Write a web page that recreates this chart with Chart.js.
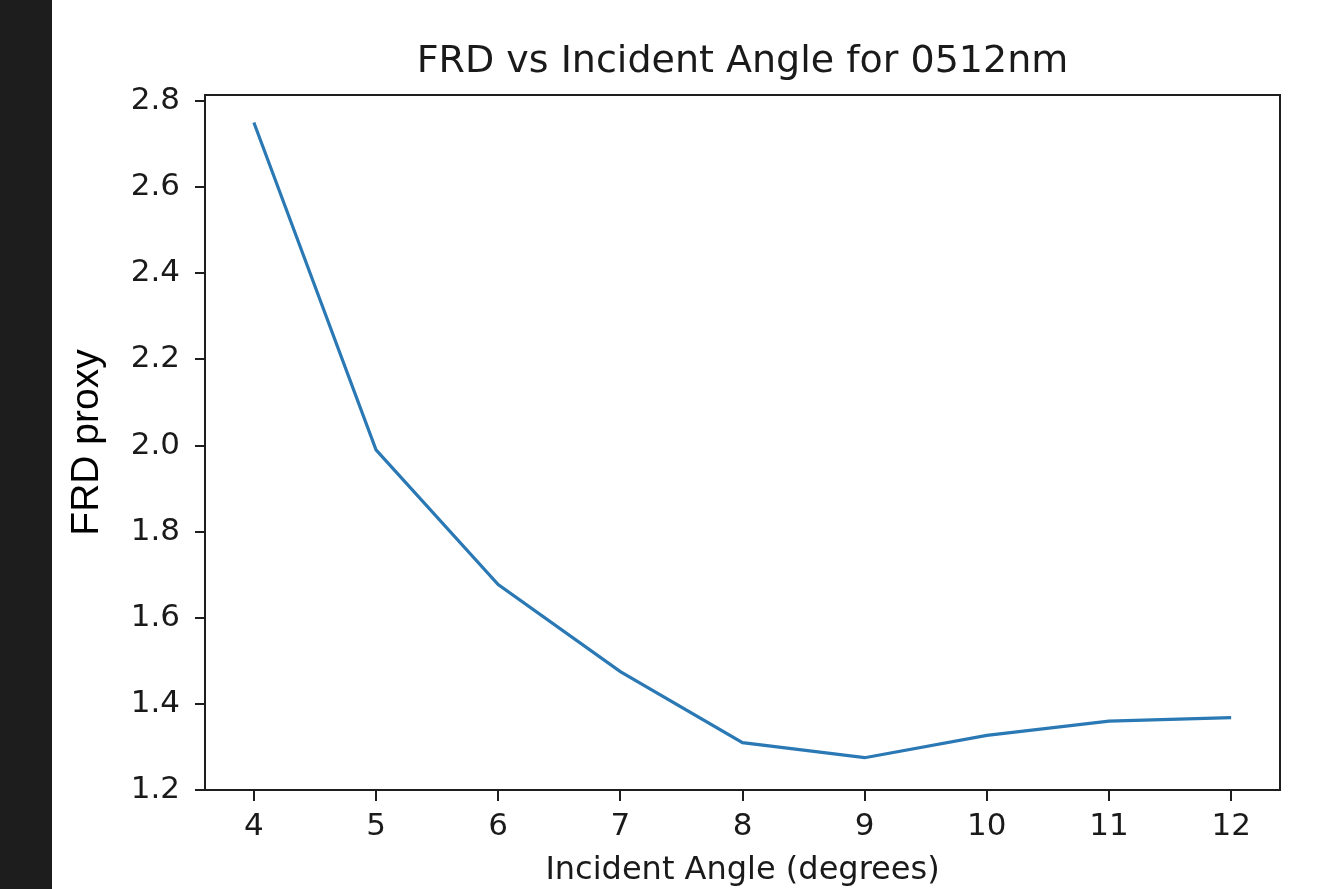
<!DOCTYPE html>
<html>
<head>
<meta charset="utf-8">
<script src="https://cdn.jsdelivr.net/npm/chart.js@4/dist/chart.umd.min.js"></script>
<style>
  html, body { margin: 0; padding: 0; background: #ffffff; }
  #wrap { position: relative; width: 1320px; height: 889px; overflow: hidden; background: #ffffff; }
  #strip { position: absolute; left: 0; top: 0; width: 52px; height: 889px; background: #1d1d1d; }
  #c { position: absolute; left: 0; top: 0; }
</style>
</head>
<body>
<div id="wrap">
  <div id="strip"></div>
  <canvas id="c" width="1320" height="889"></canvas>
</div>
<script>
const angles = [4, 5, 6, 7, 8, 9, 10, 11, 12];
const frdProxy = [2.75, 1.99, 1.677, 1.475, 1.31, 1.275, 1.327, 1.36, 1.368];
const xTickValues = [4, 5, 6, 7, 8, 9, 10, 11, 12];
const yTickValues = [1.2, 1.4, 1.6, 1.8, 2.0, 2.2, 2.4, 2.6, 2.8];
const chartTitle = 'FRD vs Incident Angle for 0512nm';
const xTitle = 'Incident Angle (degrees)';
const yTitle = 'FRD proxy';

const INK = '#1a1a1a';
const MPL = "'DejaVu Sans', sans-serif";

const boxPlugin = {
  id: 'box',
  afterDraw(chart) {
    const {ctx, chartArea: a} = chart;
    ctx.save();
    ctx.strokeStyle = '#1e1e1e';
    ctx.lineWidth = 2;
    ctx.strokeRect(a.left, a.top, a.right - a.left, a.bottom - a.top);
    ctx.restore();
  }
};

new Chart(document.getElementById('c'), {
  type: 'line',
  data: {
    datasets: [{
      data: angles.map((a, i) => ({x: a, y: frdProxy[i]})),
      borderColor: '#2a78b4',
      borderWidth: 3.2,
      pointRadius: 0,
      fill: false,
      tension: 0
    }]
  },
  options: {
    responsive: false,
    animation: false,
    events: [],
    layout: { padding: { left: 0, right: 40, top: 0, bottom: 0 } },
    plugins: {
      legend: { display: false },
      tooltip: { enabled: false },
      title: {
        display: true,
        fullSize: false,
        text: chartTitle,
        color: INK,
        font: { family: MPL, size: 38, weight: 'normal', lineHeight: 1.2 },
        padding: { top: 39.5, bottom: 9.9 }
      }
    },
    scales: {
      x: {
        type: 'linear',
        min: 3.6,
        max: 12.4,
        afterBuildTicks: s => { s.ticks = xTickValues.map(v => ({value: v})); },
        afterFit: s => { s.height = 99; },
        grid: { display: true, drawOnChartArea: false, drawTicks: true, tickLength: 11, color: '#1e1e1e', lineWidth: 2 },
        border: { display: false },
        ticks: {
          color: INK,
          font: { family: MPL, size: 31, lineHeight: 1.2 },
          padding: 7,
          maxRotation: 0,
          autoSkip: false,
          callback: v => String(v)
        },
        title: {
          display: true,
          text: xTitle,
          color: INK,
          font: { family: MPL, size: 32, lineHeight: 1.0 },
          padding: { top: 0, bottom: 2 }
        }
      },
      y: {
        type: 'linear',
        min: 1.2,
        max: 2.814,
        afterBuildTicks: s => { s.ticks = yTickValues.map(v => ({value: v})); },
        afterFit: s => { s.width = 205; },
        grid: { display: true, drawOnChartArea: false, drawTicks: true, tickLength: 10, color: '#1e1e1e', lineWidth: 2 },
        border: { display: false },
        ticks: {
          color: INK,
          font: { family: MPL, size: 31, lineHeight: 1.2 },
          padding: 15,
          autoSkip: false,
          callback: v => Number(v).toFixed(1)
        },
        title: {
          display: true,
          text: yTitle,
          color: '#000000',
          font: { family: "'Liberation Sans', Arial, sans-serif", size: 39, lineHeight: 1.2 },
          padding: { top: 64, bottom: 0 }
        }
      }
    }
  },
  plugins: [boxPlugin]
});
</script>
</body>
</html>
